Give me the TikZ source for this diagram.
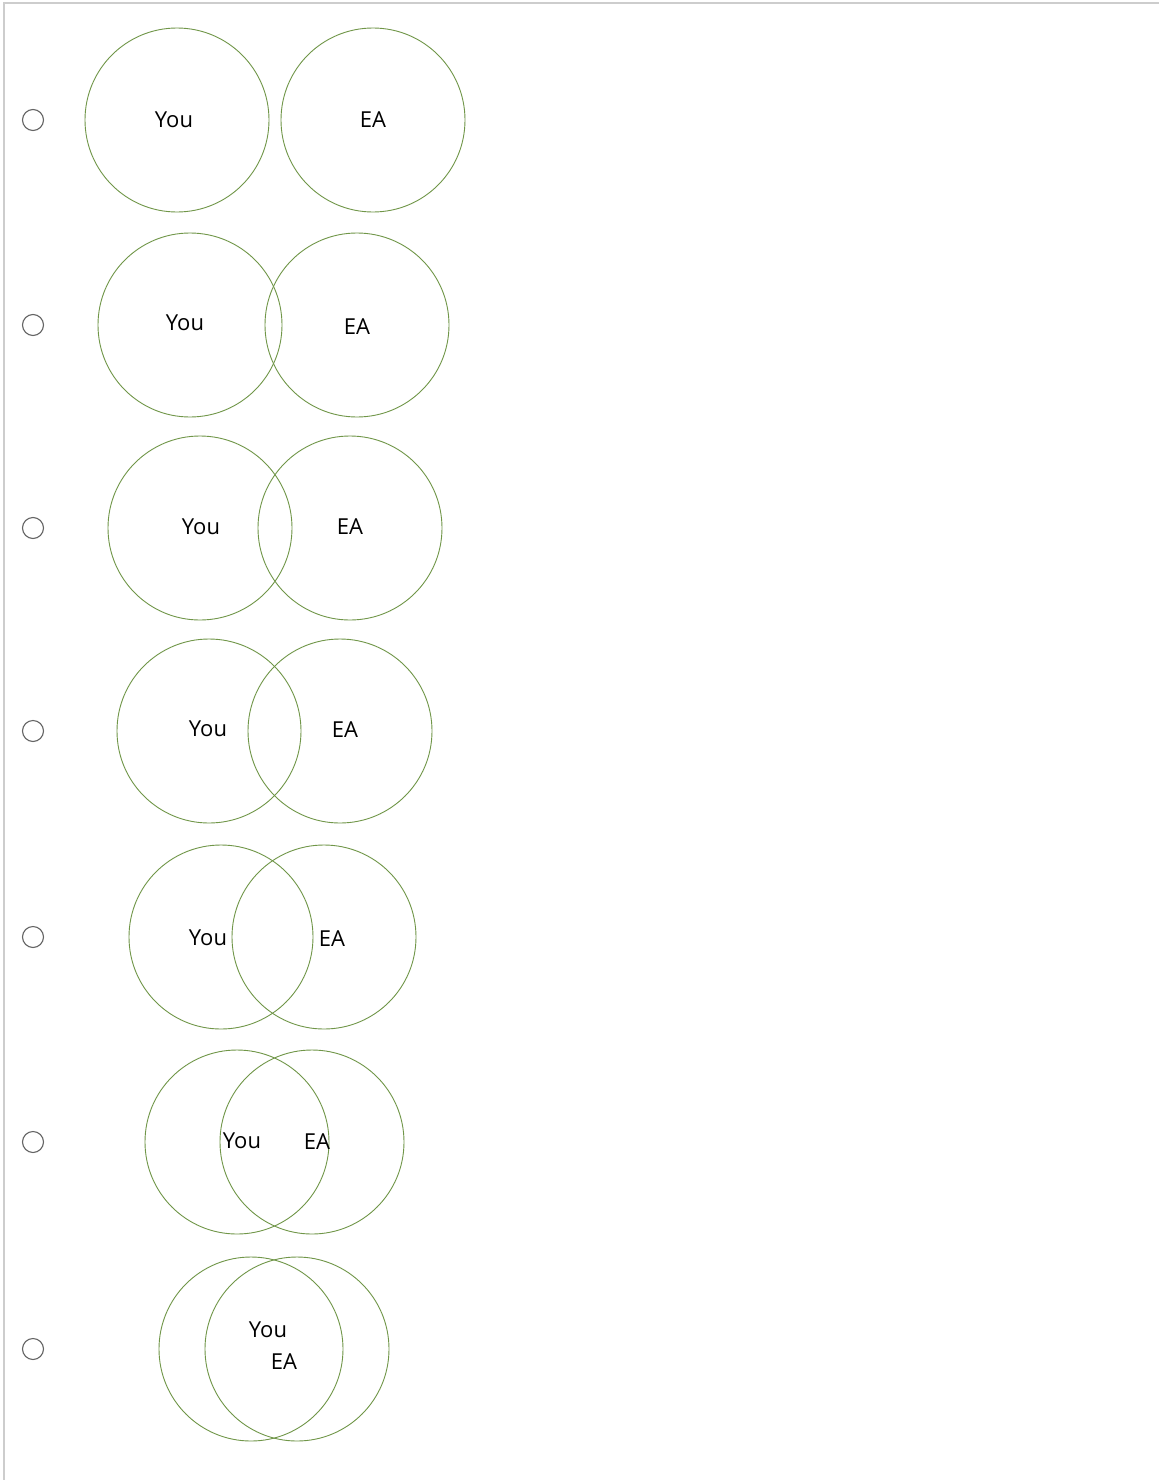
\documentclass[tikz,border=0pt]{standalone}
\usepackage{fontspec}
\setmainfont{Open Sans}
\usetikzlibrary{positioning}
\definecolor{setgreen}{RGB}{112,150,72}
\definecolor{framegray}{RGB}{205,205,205}
\definecolor{radiogray}{RGB}{100,100,100}
\tikzset{
  setcircle/.style={circle, draw=setgreen, line width=0.9pt, inner sep=0pt, minimum size=184pt},
  radio/.style={circle, draw=radiogray, line width=1.1pt, inner sep=0pt, minimum size=21pt},
  frameline/.style={draw=framegray, line width=1.6pt}
}

\begin{document}
\begin{tikzpicture}[x=1pt, y=-1pt, every node/.style={font=\fontsize{22}{24}\selectfont}]
  \useasboundingbox (0,0) rectangle (1159,1480);
  \fill[white] (0,0) rectangle (1159,1480);
  \draw[frameline] (4,1480) -- (4,3) -- (1159,3);
  % row / centre y / left set x / right set x / You / EA
  \foreach \n/\y/\a/\b/\ux/\uy/\ex/\ey in {
      1/120/177/373/174/120/373/120,
      2/325/190/357/185/323/357/327,
      3/528/200/350/201/527/350/527,
      4/731/209/340/208/729/345/730,
      5/937/221/324/208/938/332/939,
      6/1142/237/312/242/1141/317/1142,
      7/1349/251/297/268/1330/284/1362} {
    \node[radio] (opt\n) at (33,\y) {};
    \node[setcircle] (you\n set) at (\a,\y) {};
    \node[setcircle] (ea\n set) at (\b,\y) {};
    \node (you\n) at (\ux,\uy) {You};
    \node (ea\n) at (\ex,\ey) {EA};
  }
\end{tikzpicture}
\end{document}
